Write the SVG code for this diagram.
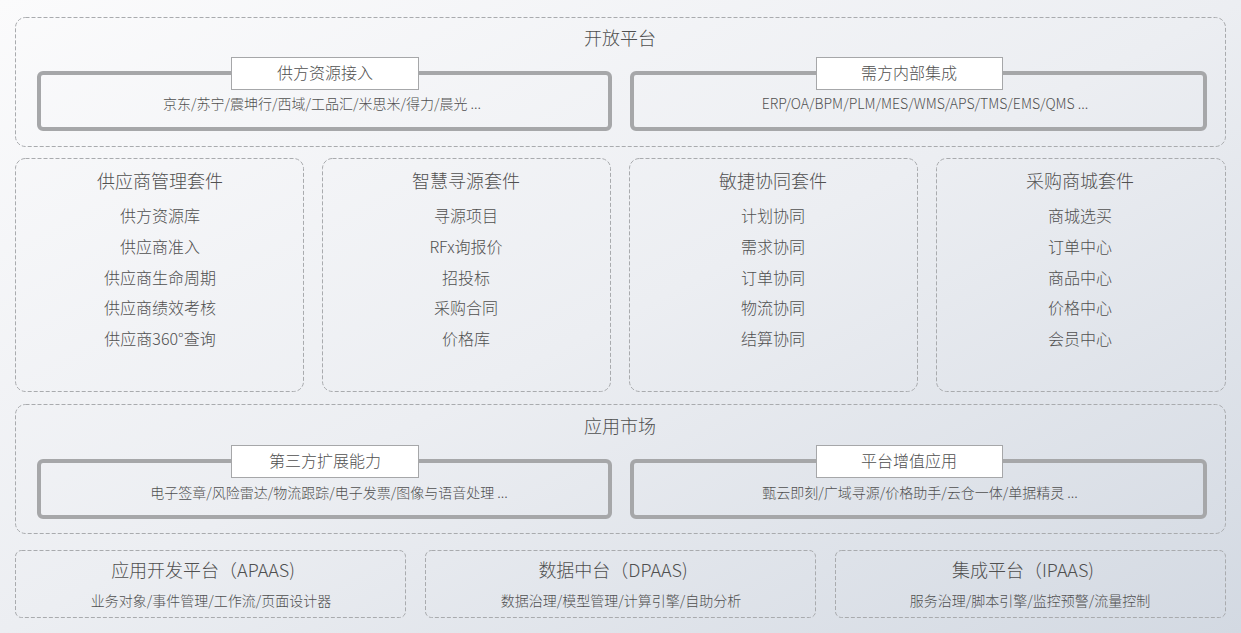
<svg xmlns="http://www.w3.org/2000/svg" width="1241" height="633" viewBox="0 0 1241 633">
<defs>
<linearGradient id="bg" x1="0" y1="0" x2="1" y2="1">
<stop offset="0" stop-color="#fbfbfc"/>
<stop offset="0.5" stop-color="#eceef2"/>
<stop offset="1" stop-color="#d3d9e2"/>
</linearGradient>
<style>
.dash{fill:none;stroke:#a9abae;stroke-width:1;stroke-dasharray:4 2}
.inner{fill:none;stroke:#a6a7a9;stroke-width:4}
.lbl{fill:#ffffff;stroke:#a6a7a9;stroke-width:1}
text{font-family:"Noto Sans CJK SC","Noto Sans",sans-serif;font-weight:300;fill:#505050;text-anchor:middle;dominant-baseline:central}
.t18{font-size:18px}
.t16{font-size:16px}
.t14{font-size:14px}
</style>
</defs>
<rect width="1241" height="633" fill="url(#bg)"/>

<g id="open-platform">
<rect class="dash" x="15.5" y="17.5" width="1210" height="129" rx="10"/>
<text class="t18" x="620" y="36.5">开放平台</text>
</g>
<g id="supply-access">
<rect class="inner" x="39" y="73" width="571" height="56" rx="4"/>
<rect class="lbl" x="231.5" y="57.5" width="187" height="32"/>
<text class="t16" x="325" y="72">供方资源接入</text>
<text class="t14" x="322" y="103">京东/苏宁/震坤行/西域/工品汇/米思米/得力/晨光 ...</text>
</g>
<g id="demand-integration">
<rect class="inner" x="632" y="73" width="573" height="56" rx="4"/>
<rect class="lbl" x="816.5" y="57.5" width="186" height="32"/>
<text class="t16" x="909" y="72">需方内部集成</text>
<text class="t14" x="925" y="103">ERP/OA/BPM/PLM/MES/WMS/APS/TMS/EMS/QMS ...</text>
</g>

<g id="supplier-suite">
<rect class="dash" x="15.5" y="158.5" width="288" height="233" rx="10"/>
<text class="t18" x="160" y="179.5">供应商管理套件</text>
<text class="t16" x="160" y="215">供方资源库</text>
<text class="t16" x="160" y="246">供应商准入</text>
<text class="t16" x="160" y="277">供应商生命周期</text>
<text class="t16" x="160" y="307">供应商绩效考核</text>
<text class="t16" x="160" y="338">供应商360°查询</text>
</g>
<g id="sourcing-suite">
<rect class="dash" x="322.5" y="158.5" width="288" height="233" rx="10"/>
<text class="t18" x="466" y="179.5">智慧寻源套件</text>
<text class="t16" x="466" y="215">寻源项目</text>
<text class="t16" x="466" y="246">RFx询报价</text>
<text class="t16" x="466" y="277">招投标</text>
<text class="t16" x="466" y="307">采购合同</text>
<text class="t16" x="466" y="338">价格库</text>
</g>
<g id="collab-suite">
<rect class="dash" x="629.5" y="158.5" width="288" height="233" rx="10"/>
<text class="t18" x="773" y="179.5">敏捷协同套件</text>
<text class="t16" x="773" y="215">计划协同</text>
<text class="t16" x="773" y="246">需求协同</text>
<text class="t16" x="773" y="277">订单协同</text>
<text class="t16" x="773" y="307">物流协同</text>
<text class="t16" x="773" y="338">结算协同</text>
</g>
<g id="mall-suite">
<rect class="dash" x="936.5" y="158.5" width="289" height="233" rx="10"/>
<text class="t18" x="1080" y="179.5">采购商城套件</text>
<text class="t16" x="1080" y="215">商城选买</text>
<text class="t16" x="1080" y="246">订单中心</text>
<text class="t16" x="1080" y="277">商品中心</text>
<text class="t16" x="1080" y="307">价格中心</text>
<text class="t16" x="1080" y="338">会员中心</text>
</g>

<g id="app-market">
<rect class="dash" x="15.5" y="404.5" width="1210" height="129" rx="10"/>
<text class="t18" x="620" y="424.5">应用市场</text>
</g>
<g id="third-party">
<rect class="inner" x="39" y="461" width="571" height="56" rx="4"/>
<rect class="lbl" x="231.5" y="445.5" width="187" height="32"/>
<text class="t16" x="325" y="460">第三方扩展能力</text>
<text class="t14" x="329" y="492">电子签章/风险雷达/物流跟踪/电子发票/图像与语音处理 ...</text>
</g>
<g id="value-added">
<rect class="inner" x="632" y="461" width="573" height="56" rx="4"/>
<rect class="lbl" x="816.5" y="445.5" width="186" height="32"/>
<text class="t16" x="909" y="460">平台增值应用</text>
<text class="t14" x="920" y="492">甄云即刻/广域寻源/价格助手/云仓一体/单据精灵 ...</text>
</g>

<g id="apaas">
<rect class="dash" x="15.5" y="550.5" width="390" height="67" rx="6"/>
<text class="t18" x="203" y="568.5">应用开发平台（APAAS)</text>
<text class="t14" x="211" y="600">业务对象/事件管理/工作流/页面设计器</text>
</g>
<g id="dpaas">
<rect class="dash" x="425.5" y="550.5" width="390" height="67" rx="6"/>
<text class="t18" x="613" y="568.5">数据中台（DPAAS)</text>
<text class="t14" x="621" y="600">数据治理/模型管理/计算引擎/自助分析</text>
</g>
<g id="ipaas">
<rect class="dash" x="835.5" y="550.5" width="390" height="67" rx="6"/>
<text class="t18" x="1023" y="568.5">集成平台（IPAAS)</text>
<text class="t14" x="1030" y="600">服务治理/脚本引擎/监控预警/流量控制</text>
</g>

<g id="connectors"></g>
</svg>
